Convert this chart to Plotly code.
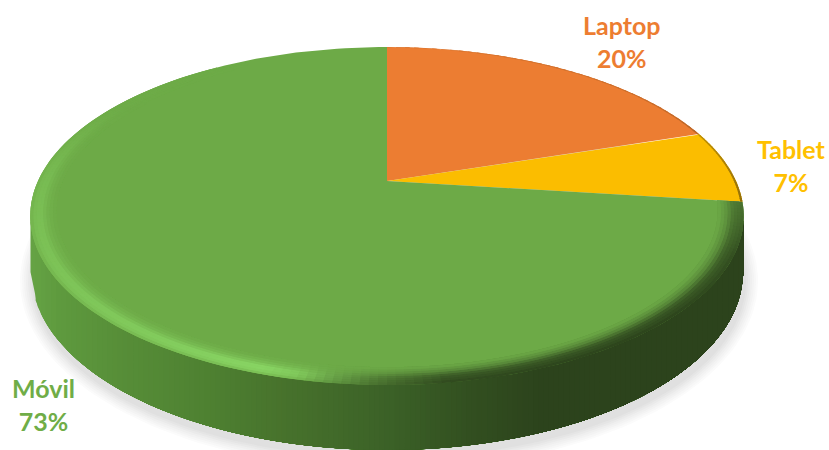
import numpy as np
import plotly.graph_objects as go

categories = ["Laptop", "Tablet", "Móvil"]
values = [20, 7, 73]
slice_colors = ["#EC7D32", "#FBBD00", "#6DAA47"]
text_colors = ["#ED7D31", "#FFC000", "#70AD47"]
label_x = [621, 791, 43]
label_y = [41, 165, 404]

W, H = 829, 450
# perspective disc (pixel axes)
CX, CY, A, B, K = 387.0, 181.0, 161.7, 349.0, 0.207
TOP_CY, TOP_RX, TOP_RY = 216.0, 357.0, 169.0
BOT_CY, BOT_RX, BOT_RY = 272.0, 356.0, 178.0


def project(r, theta):
    x, y = r * np.sin(theta), r * np.cos(theta)
    w = 1 + K * y
    return CX + B * x / w, CY - A * y / w


def rgb(h):
    return np.array([int(h[i:i + 2], 16) for i in (1, 3, 5)], float)


def css(c):
    c = np.clip(c, 0, 255).round().astype(int)
    return f"rgb({c[0]},{c[1]},{c[2]})"


def poly(fig, xs, ys, color, name=None):
    fig.add_trace(go.Scatter(x=list(xs), y=list(ys), mode="lines", fill="toself",
                             fillcolor=color, line=dict(color=color, width=0),
                             hoverinfo="skip" if name is None else "name",
                             name=name or "", showlegend=False))


fig = go.Figure()

# soft ground shadow
t = np.linspace(0, 2 * np.pi, 200)
for d, g in zip([13, 11, 9, 7, 5, 3, 1], [251, 247, 243, 239, 234, 229, 224]):
    poly(fig, 389 + (356 + d) * np.cos(t), 281 + (176 + d) * np.sin(t), f"rgb({g},{g},{g})")

# side wall, shaded across the screen (strips overlap to the right, no seams)
wall_x = [30, 60, 120, 200, 285, 390, 470, 540, 600, 745]
wall_c = [rgb(c) for c in ["#66A345", "#5E9A3E", "#578E38", "#4F8232", "#47722C",
                           "#3B6127", "#324F20", "#2C431C", "#2C431C", "#2C431C"]]
edges = np.linspace(30.5, 743.5, 140)
for k, x0 in enumerate(edges[:-1]):
    x1 = edges[-1]
    xm = (x0 + edges[k + 1]) / 2
    c = np.array([np.interp(xm, wall_x, [w[i] for w in wall_c]) for i in range(3)])
    xx = np.linspace(x0, x1, 100)
    up = TOP_CY + TOP_RY * np.sqrt(np.clip(1 - ((xx - CX) / TOP_RX) ** 2, 0, 1))
    lo = BOT_CY + BOT_RY * np.sqrt(np.clip(1 - ((xx - CX) / BOT_RX) ** 2, 0, 1))
    poly(fig, list(xx) + list(xx[::-1]), list(up - 4) + list(lo[::-1]), css(c))

# top face slices, from the values
fractions = np.cumsum([0] + values) / np.sum(values)
angles = fractions * 2 * np.pi
for i, cat in enumerate(categories):
    th = np.linspace(angles[i], angles[i + 1], 160)
    px, py = project(1.0, th)
    poly(fig, [CX] + list(px) + [CX], [CY] + list(py) + [CY], slice_colors[i], name=cat)

# bevel rim on the green slice (bands overlap inward and forward)
deg_h = [0, 178, 188, 197, 215, 240, 270, 300, 330, 360]
val_h = [0, 0.03, 0.5, 1.0, 0.78, 0.6, 0.42, 0.05, 0.01, 0]
deg_d = [97, 115, 135, 155, 172, 182, 192, 360]
val_d = [0.55, 0.9, 1.0, 1.0, 0.95, 0.55, 0.0, 0]
hi = rgb("#8AD765")
dark = rgb("#2C431C")
base = rgb(slice_colors[2])
R_IN = 0.93
n_band = 8
radii = np.linspace(1.0, R_IN, n_band + 1)
th_edges = np.linspace(angles[2], angles[3], 220)
for j in range(n_band):
    u = (j + 0.5) / n_band
    w_hi = np.interp(u, [0, 0.15, 0.4, 0.7, 1], [0.35, 0.8, 1, 0.35, 0])
    w_dk = np.interp(u, [0, 0.4, 0.7, 1], [1, 0.8, 0.3, 0])
    r_inner = radii[min(j + 2, n_band)]
    for m, a0 in enumerate(th_edges[:-1]):
        am = (a0 + th_edges[m + 1]) / 2
        deg = np.degrees(am)
        h = np.interp(deg, deg_h, val_h) * w_hi
        d = np.interp(deg, deg_d, val_d) * w_dk
        if h < 0.01 and d < 0.01:
            continue
        c = base * (1 - h) + hi * h
        c = c * (1 - d) + dark * d
        tt = np.linspace(a0, th_edges[min(m + 2, len(th_edges) - 1)], 4)
        xo, yo = project(radii[j], tt)
        xi, yi = project(r_inner, tt)
        poly(fig, list(xo) + list(xi[::-1]), list(yo) + list(yi[::-1]), css(c))

# thin shaded lip on orange and yellow slices
for i in range(2):
    for m in range(40):
        f0 = angles[i] + (angles[i + 1] - angles[i]) * m / 40
        f1 = angles[i] + (angles[i + 1] - angles[i]) * (m + 1.5) / 40
        f1 = min(f1, angles[i + 1])
        d = np.interp(np.degrees(f0), [0, 60, 97], [0.08, 0.2, 0.55])
        c = rgb(slice_colors[i]) * (1 - d) + np.array([60, 45, 15]) * d
        tt = np.linspace(f0, f1, 4)
        xo, yo = project(1.0, tt)
        xi, yi = project(0.994, tt)
        poly(fig, list(xo) + list(xi[::-1]), list(yo) + list(yi[::-1]), css(c))

# labels
total = np.sum(values)
for cat, v, lx, ly, col in zip(categories, values, label_x, label_y, text_colors):
    fig.add_annotation(x=lx, y=ly, xref="x", yref="y", showarrow=False,
                       text=f"<b>{cat}<br>{round(100 * v / total)}%</b>",
                       font=dict(family="Lato", size=25, color=col), align="center")

fig.update_layout(width=W, height=H, margin=dict(l=0, r=0, t=0, b=0),
                  paper_bgcolor="white", plot_bgcolor="white", showlegend=False,
                  xaxis=dict(range=[0, W], visible=False, fixedrange=True),
                  yaxis=dict(range=[H, 0], visible=False, fixedrange=True))
fig.write_html("out.html", config=dict(displayModeBar=False),
               post_script="document.body.style.margin='0';")
